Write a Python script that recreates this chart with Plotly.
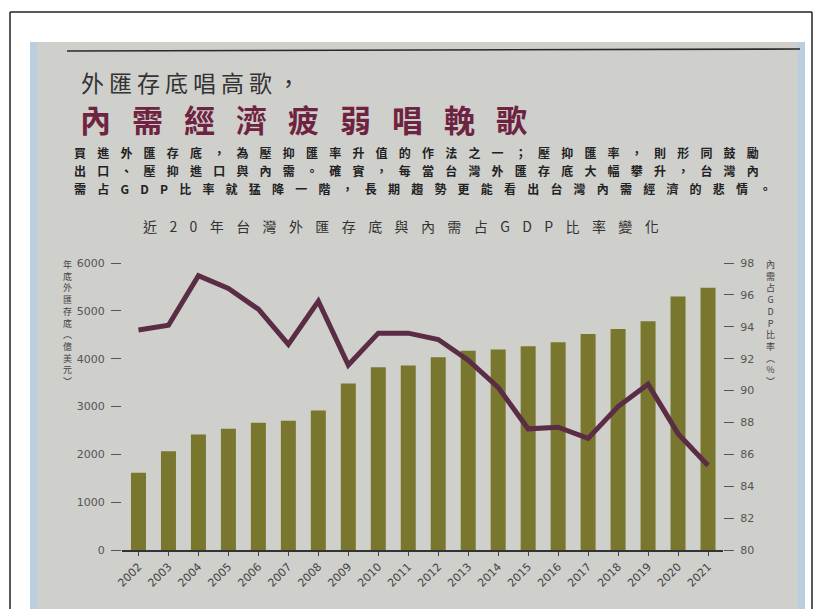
import plotly.graph_objects as go

# ---------------- data ----------------
years = ["2002", "2003", "2004", "2005", "2006", "2007", "2008", "2009", "2010", "2011",
         "2012", "2013", "2014", "2015", "2016", "2017", "2018", "2019", "2020", "2021"]
reserves = [1616, 2066, 2417, 2533, 2661, 2703, 2917, 3482, 3820, 3855,
            4032, 4168, 4190, 4260, 4342, 4515, 4618, 4781, 5299, 5484]
domestic_ratio = [93.8, 94.1, 97.2, 96.4, 95.1, 92.9, 95.6, 91.6, 93.6, 93.6,
                  93.2, 91.9, 90.2, 87.6, 87.7, 87.0, 89.0, 90.4, 87.3, 85.3]
left_ticks = [0, 1000, 2000, 3000, 4000, 5000, 6000]
right_ticks = [80, 82, 84, 86, 88, 90, 92, 94, 96, 98]

headline1 = "外匯存底唱高歌，"
headline2 = "內需經濟疲弱唱輓歌"
body_lines = [
    "買進外匯存底，為壓抑匯率升值的作法之一；壓抑匯率，則形同鼓勵",
    "出口、壓抑進口與內需。確實，每當台灣外匯存底大幅攀升，台灣內",
    "需占GDP比率就猛降一階，長期趨勢更能看出台灣內需經濟的悲情。",
]
chart_title = "近20年台灣外匯存底與內需占GDP比率變化"
left_title_chars = ["年", "底", "外", "匯", "存", "底", "︵", "億", "美", "元", "︶"]
right_title_chars = ["內", "需", "占", "G", "D", "P", "比", "率", "︵", "%", "︶"]

# ---------------- layout geometry (target pixel coords, page offset 8px) ----------------
OFF = 8
W, H = 821 - OFF, 609 - OFF
PLOT_L, PLOT_R, PLOT_T, PLOT_B = 122, 723, 263, 550
ML, MR, MT, MB = PLOT_L - OFF, W - (PLOT_R - OFF), PLOT_T - OFF, H - (PLOT_B - OFF)
PW = PLOT_R - PLOT_L
PH = PLOT_B - PLOT_T


def px(x):
    return (x - PLOT_L) / PW


def py(y):
    return (PLOT_B - y) / PH


CJK = "Noto Sans CJK TC, Noto Sans CJK SC, sans-serif"
BAR_COLOR = "#78772d"
LINE_COLOR = "#5a2d44"

fig = go.Figure()
fig.add_trace(go.Bar(
    x=years, y=reserves, marker=dict(color=BAR_COLOR, line=dict(width=0)),
    yaxis="y", showlegend=False, hoverinfo="x+y",
))
fig.add_trace(go.Scatter(
    x=years, y=domestic_ratio, mode="lines",
    line=dict(color=LINE_COLOR, width=5), yaxis="y2", showlegend=False,
))

shapes = [
    # gray paper
    dict(type="rect", xref="paper", yref="paper", x0=px(30), x1=px(805), y0=py(640), y1=py(42),
         fillcolor="#cfcfcc", line=dict(width=0), layer="below"),
    dict(type="rect", xref="paper", yref="paper", x0=px(30), x1=px(37), y0=py(640), y1=py(42),
         fillcolor="#b9cfdf", line=dict(width=0), layer="below"),
    dict(type="rect", xref="paper", yref="paper", x0=px(798), x1=px(805), y0=py(640), y1=py(42),
         fillcolor="#b9cfdf", line=dict(width=0), layer="below"),
    # outer frame lines
    dict(type="line", xref="paper", yref="paper", x0=px(10), x1=px(10), y0=py(640), y1=py(12),
         line=dict(color="#222", width=1.5)),
    dict(type="line", xref="paper", yref="paper", x0=px(10), x1=px(812), y0=py(12), y1=py(12),
         line=dict(color="#222", width=1.5)),
    dict(type="line", xref="paper", yref="paper", x0=px(812), x1=px(812), y0=py(640), y1=py(12),
         line=dict(color="#222", width=1.5)),
    # rule above headline
    dict(type="line", xref="paper", yref="paper", x0=px(67), x1=px(800), y0=py(51), y1=py(49),
         line=dict(color="#2a2a2a", width=1.6)),
]

annotations = [
    dict(xref="paper", yref="paper", x=px(80), y=py(82), xanchor="left", yanchor="middle",
         showarrow=False, borderpad=0,
         text='<span style="letter-spacing:5px">' + headline1 + "</span>",
         font=dict(family=CJK, size=23, color="#333333")),
    dict(xref="paper", yref="paper", x=px(79), y=py(119), xanchor="left", yanchor="middle",
         showarrow=False, borderpad=0,
         text='<span style="letter-spacing:21px"><b>' + headline2 + "</b></span>",
         font=dict(family=CJK, size=31, color="#6e2440")),
    dict(xref="paper", yref="paper", x=px(142), y=py(226), xanchor="left", yanchor="middle",
         showarrow=False, borderpad=0,
         text='<span style="letter-spacing:12.4px">' + chart_title + "</span>",
         font=dict(family=CJK, size=14, color="#333333")),
    dict(xref="paper", yref="paper", x=px(67), y=py(257), xanchor="center", yanchor="top",
         showarrow=False, borderpad=0, text="<br>".join(left_title_chars),
         font=dict(family=CJK, size=9, color="#444444")),
    dict(xref="paper", yref="paper", x=px(770), y=py(257), xanchor="center", yanchor="top",
         showarrow=False, borderpad=0, text="<br>".join(right_title_chars),
         font=dict(family=CJK, size=9, color="#444444")),
]
for i, ln in enumerate(body_lines):
    annotations.append(dict(
        xref="paper", yref="paper", x=px(73), y=py(152 + 18 * i), xanchor="left", yanchor="middle",
        showarrow=False, borderpad=0,
        text='<span style="letter-spacing:11.2px"><b>' + ln + "</b></span>",
        font=dict(family=CJK, size=12, color="#222222")))

fig.update_layout(
    width=W, height=H,
    margin=dict(l=ML, r=MR, t=MT, b=MB, pad=0),
    paper_bgcolor="white", plot_bgcolor="rgba(0,0,0,0)",
    bargap=0.5,
    shapes=shapes, annotations=annotations,
    xaxis=dict(
        type="category", range=[-0.55, 19.5], showgrid=False, zeroline=False,
        showline=True, linecolor="#333333", linewidth=2,
        ticks="outside", ticklen=4, tickcolor="#444444", tickangle=-45,
        tickfont=dict(family="DejaVu Sans, sans-serif", size=11, color="#444444"),
    ),
    yaxis=dict(
        range=[0, 6000], tickvals=left_ticks, showgrid=False, zeroline=False, showline=False,
        ticks="outside", ticklen=10, tickcolor="#555555", ticklabelstandoff=4,
        tickfont=dict(family="DejaVu Sans, sans-serif", size=11, color="#555555"),
    ),
    yaxis2=dict(
        range=[80, 98], tickvals=right_ticks, overlaying="y", side="right",
        showgrid=False, zeroline=False, showline=False,
        ticks="outside", ticklen=10, tickcolor="#555555", ticklabelstandoff=4,
        tickfont=dict(family="DejaVu Sans, sans-serif", size=11, color="#555555"),
    ),
)

fig.write_html("out.html")
